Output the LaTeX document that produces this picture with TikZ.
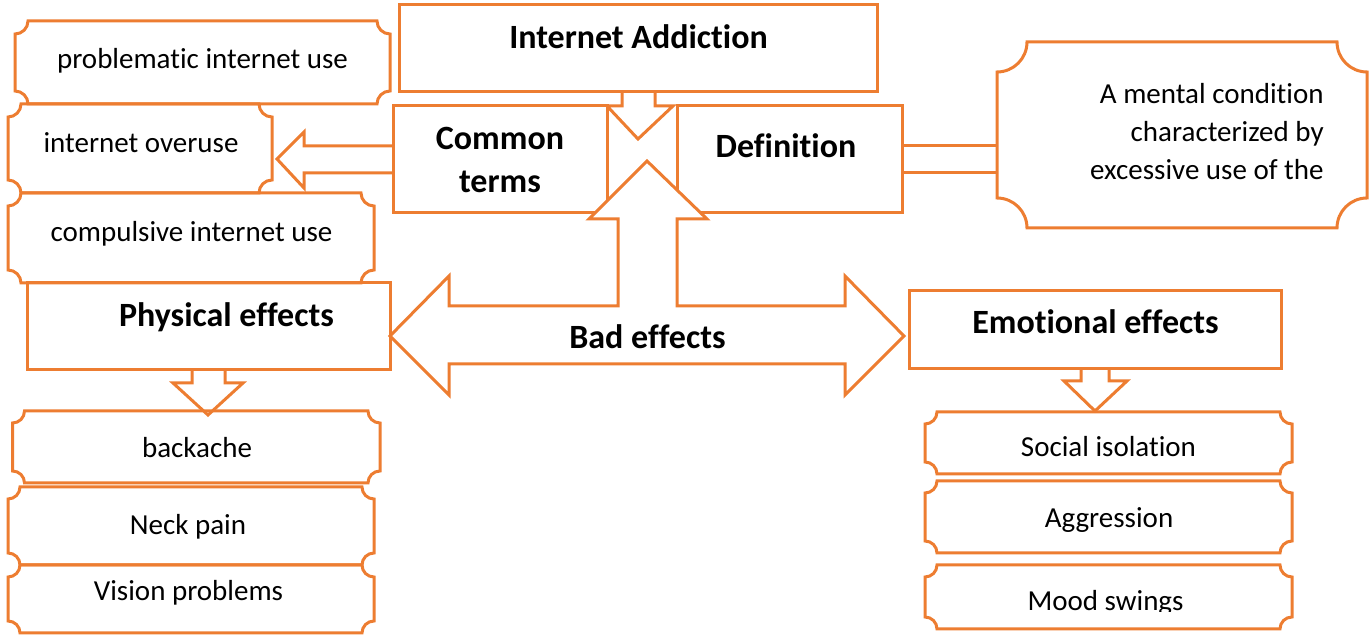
\documentclass[tikz,border=0pt]{standalone}
\usepackage{fontspec}
\setmainfont{Carlito}[Ligatures={NoCommon,NoContextual},Contextuals=NoAlternate]
\definecolor{acc}{RGB}{237,125,49}
\tikzset{
  ol/.style={draw=acc, line width=1.5pt},
  txt/.style={font=\fontsize{14.5pt}{19pt}\selectfont, anchor=base, inner sep=0pt},
  btxt/.style={font=\fontsize{17pt}{21.5pt}\selectfont\bfseries, anchor=base, inner sep=0pt},
}
% plaque with concave corners: x1, ytop, x2, ybot, r (pixel units, y downwards)
\newcommand\plq[5]{%
  \draw[ol] (#1+#5,-#2) -- (#3-#5,-#2) arc[start angle=180,end angle=270,radius=#5]
    -- (#3,-#4+#5) arc[start angle=90,end angle=180,radius=#5]
    -- (#1+#5,-#4) arc[start angle=0,end angle=90,radius=#5]
    -- (#1,-#2-#5) arc[start angle=270,end angle=360,radius=#5] -- cycle;}
\begin{document}
\begin{tikzpicture}[x=0.5pt,y=0.5pt]
\useasboundingbox (0,0) rectangle (1372,-635);

% ---- Internet Addiction and its arrow
\draw[ol] (399,-5) rectangle (877,-92);
\node[btxt] (ia) at (638.5,-49) {Internet Addiction};
\draw[ol] (622,-92) -- (622,-106) -- (607,-106) -- (638,-139) -- (673,-106) -- (655,-106) -- (655,-92);

% ---- Common terms
\draw[ol] (393,-106) rectangle (607,-213);
\node[btxt, align=center] (ct) at (500,-193) {Common\\terms};
\draw[ol] (393,-146) -- (304,-146) -- (304,-132) -- (277,-159) -- (304,-188) -- (304,-173) -- (393,-173);

% ---- Definition
\draw[ol] (677,-106) rectangle (902,-213);
\node[btxt] (df) at (786,-158) {Definition};
\draw[ol] (902,-146) -- (997,-146);
\draw[ol] (902,-173) -- (997,-173);
\plq{997}{42}{1367}{228}{30}
\node[txt, align=right, anchor=base east] (dt) at (1324,-180) {A mental condition\\characterized by\\excessive use of the};

% ---- common terms list
\plq{15}{21}{390}{104}{13}
\node[txt] (t1) at (202.5,-69) {problematic internet use};
\plq{8}{104}{272}{193}{13}
\node[txt] (t2) at (141,-153) {internet overuse};
\plq{8}{193}{374}{283}{13}
\node[txt] (t3) at (191.5,-242) {compulsive internet use};

% ---- Physical effects
\draw[ol] (27,-283) rectangle (390,-370);
\node[btxt] (pe) at (226.5,-327) {Physical effects};
\draw[ol] (192,-370) -- (192,-383) -- (173,-383) -- (208,-415) -- (243,-383) -- (225,-383) -- (225,-370);
\plq{12.5}{411}{380}{483}{12}
\node[txt] (p1) at (197,-458) {backache};
\plq{8}{487}{374}{565}{12}
\node[txt] (p2) at (188,-535) {Neck pain};
\plq{8}{565}{374}{633}{12}
\node[txt] (p3) at (188.5,-601) {Vision problems};

% ---- Bad effects arrow
\draw[ol, fill=white] (390,-336) -- (449,-276) -- (449,-306) -- (618,-306) -- (618,-219)
  -- (589,-219) -- (647,-161) -- (707,-219) -- (677,-219) -- (677,-306) -- (845,-306)
  -- (845,-276) -- (904,-336) -- (845,-395) -- (845,-364) -- (449,-364) -- (449,-395) -- cycle;
\node[btxt] (be) at (647.5,-349) {Bad effects};

% ---- Emotional effects
\draw[ol] (909,-291) rectangle (1281,-369);
\node[btxt] (ee) at (1095.5,-334) {Emotional effects};
\draw[ol] (1081,-369) -- (1081,-381) -- (1064,-381) -- (1095,-411) -- (1127,-381) -- (1109,-381) -- (1109,-369);
\plq{925}{412}{1292}{474}{12}
\begin{scope}
  \clip (930,-412) rectangle (1290,-457.5);
  \node[txt] (e1) at (1108.5,-457) {Social isolation};
\end{scope}
\plq{925}{481}{1292}{553}{12}
\node[txt] (e2) at (1109,-528) {Aggression};
\plq{925}{565}{1292}{629}{12}
\begin{scope}
  \clip (930,-565) rectangle (1290,-611.5);
  \node[txt] (e3) at (1105.5,-611) {Mood swings};
\end{scope}
\end{tikzpicture}
\end{document}
